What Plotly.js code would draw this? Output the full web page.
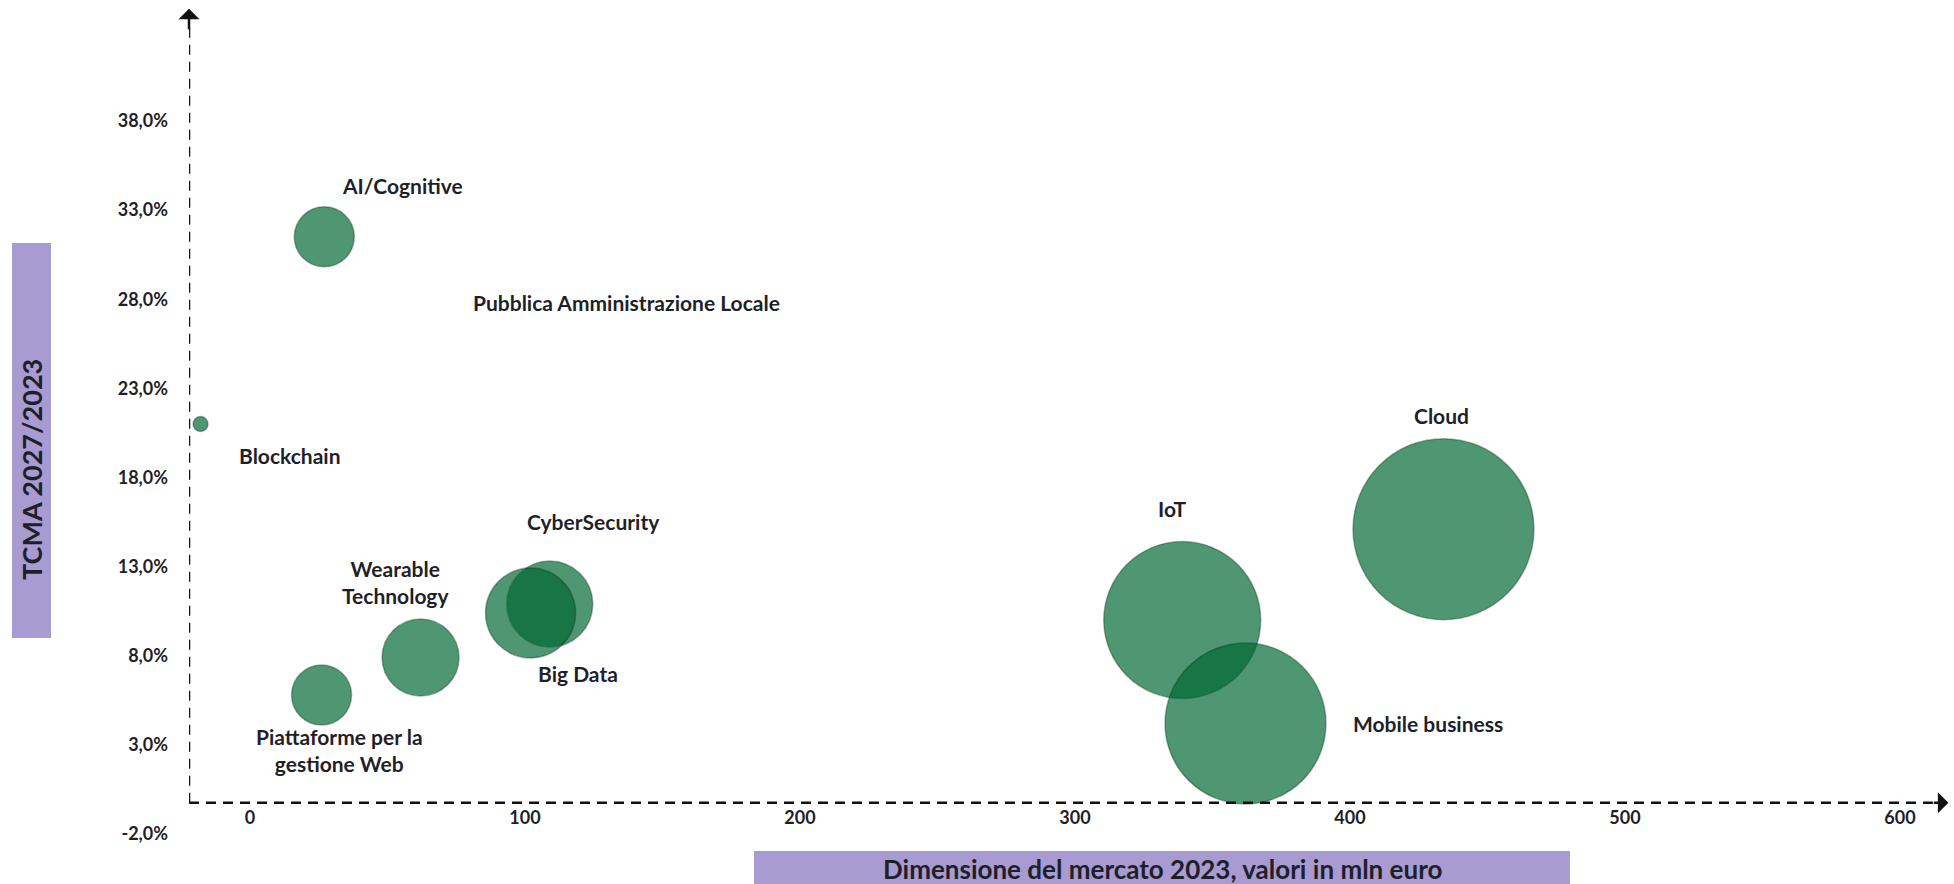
<!DOCTYPE html>
<html>
<head>
<meta charset="utf-8">
<script src="https://cdn.plot.ly/plotly-3.0.1.min.js"></script>
<style>
  html, body { margin: 0; padding: 0; background: #fff; }
  #chart { width: 1954px; height: 884px; }
</style>
</head>
<body>
<div id="chart"></div>
<script>
// bubble data
var labels = ['AI/Cognitive', 'Pubblica Amministrazione Locale', 'Blockchain', 'CyberSecurity',
  'Wearable<br>Technology', 'Big Data', 'Piattaforme per la<br>gestione Web', 'IoT', 'Mobile business', 'Cloud'];
var marketSize = [27, 137, -18, 109, 62, 102, 26, 339, 362, 434];   // mln euro 2023
var cagr = [31.5, 27.8, 21.0, 10.9, 7.9, 10.4, 5.8, 10.0, 4.2, 15.1]; // TCMA 2027/2023
var bubbleSize = [60, 0, 15, 86, 77, 90, 60, 157, 161, 181];

var xTickVals = [0, 100, 200, 300, 400, 500, 600];
var xTickText = ['0', '100', '200', '300', '400', '500', '600'];
var yTickVals = [-2, 3, 8, 13, 18, 23, 28, 33, 38];
var yTickText = ['-2,0%', '3,0%', '8,0%', '13,0%', '18,0%', '23,0%', '28,0%', '33,0%', '38,0%'];

// label offsets in px (right, up) for each bubble label
var labelShift = [[78, 51], [0, 0], [89, -31], [44, 83], [-25, 76], [47, -61], [18, -55], [-10, 112], [183, 0], [-2, 114]];

var W = 1954, H = 884;
var margin = {l: 189, r: 4, t: 6, b: 50};
var xRange = [-22.2, 618.2];
var yRange = [-2, 44.45];
var xCross = -22.2, yCross = -0.25;

var plotW = W - margin.l - margin.r;
var plotH = H - margin.t - margin.b;
function paperX(px) { return (px - margin.l) / plotW; }
function paperY(py) { return (H - margin.b - py) / plotH; }

var font = 'Lato, "Open Sans", sans-serif';
var textCol = '#1f1f2a';

var trace = {
  x: marketSize,
  y: cagr,
  mode: 'markers',
  type: 'scatter',
  hoverinfo: 'none',
  marker: {
    size: bubbleSize,
    sizemode: 'diameter',
    sizeref: 1,
    opacity: 1,
    color: 'rgba(0,103,51,0.69)',
    line: {color: 'rgba(0,45,18,0.35)', width: 1.5}
  }
};

var annotations = labels.map(function (t, i) {
  return {
    x: marketSize[i], y: cagr[i], xref: 'x', yref: 'y',
    text: t, showarrow: false,
    xshift: labelShift[i][0], yshift: labelShift[i][1],
    xanchor: 'center', yanchor: 'middle',
    font: {family: font, size: 21, color: textCol, weight: 700},
    align: 'center'
  };
});

// arrow heads on the axes
annotations.push({
  x: xCross, y: 44.3, xref: 'x', yref: 'y', ax: 0, ay: 22, text: '',
  showarrow: true, arrowhead: 1, arrowsize: 1.4, arrowwidth: 2.5, arrowcolor: '#111'
});
annotations.push({
  x: 617.6, y: yCross, xref: 'x', yref: 'y', ax: -16, ay: 0, text: '',
  showarrow: true, arrowhead: 1, arrowsize: 1.4, arrowwidth: 2.5, arrowcolor: '#111'
});

// axis titles
annotations.push({
  x: paperX(31), y: paperY(470), xref: 'paper', yref: 'paper',
  xanchor: 'center', yanchor: 'middle',
  text: 'TCMA 2027/2023', textangle: -90, showarrow: false,
  font: {family: font, size: 27, color: textCol, weight: 700}
});
annotations.push({
  x: paperX(1162), y: paperY(869), xref: 'paper', yref: 'paper',
  xanchor: 'center', yanchor: 'middle',
  text: 'Dimensione del mercato 2023, valori in mln euro', showarrow: false,
  font: {family: font, size: 26, color: textCol, weight: 700}
});

var dash = '10px,7px';
var shapes = [
  {type: 'rect', xref: 'paper', yref: 'paper', x0: paperX(12), x1: paperX(51), y0: paperY(638), y1: paperY(243),
    fillcolor: '#a79bd1', line: {width: 0}, layer: 'below'},
  {type: 'rect', xref: 'paper', yref: 'paper', x0: paperX(754), x1: paperX(1570), y0: paperY(890), y1: paperY(851),
    fillcolor: '#a79bd1', line: {width: 0}, layer: 'below'},
  {type: 'line', xref: 'x', yref: 'y', x0: xCross, x1: xCross, y0: yCross, y1: 43.2,
    line: {color: '#111', width: 2.5, dash: dash}},
  {type: 'line', xref: 'x', yref: 'y', x0: xCross, x1: 612, y0: yCross, y1: yCross,
    line: {color: '#111', width: 2.5, dash: dash}}
];

var layout = {
  width: W, height: H,
  margin: margin,
  paper_bgcolor: '#fff', plot_bgcolor: '#fff',
  showlegend: false,
  xaxis: {
    range: xRange, showgrid: false, zeroline: false, showline: false,
    anchor: 'free', position: (yCross - yRange[0]) / (yRange[1] - yRange[0]),
    tickvals: xTickVals, ticktext: xTickText, ticks: '', ticklabelstandoff: 2,
    tickfont: {family: font, size: 18, color: textCol, weight: 700}
  },
  yaxis: {
    range: yRange, showgrid: false, zeroline: false, showline: false,
    tickvals: yTickVals, ticktext: yTickText, ticks: '', ticklabelstandoff: 20,
    tickfont: {family: font, size: 18, color: textCol, weight: 700}
  },
  shapes: shapes,
  annotations: annotations
};

Plotly.newPlot('chart', [trace], layout, {staticPlot: true});
</script>
</body>
</html>
